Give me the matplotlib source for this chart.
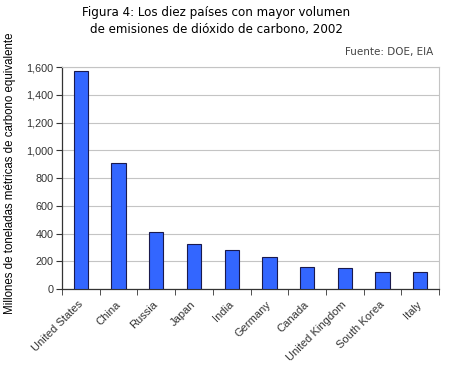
import matplotlib
matplotlib.use("Agg")
import matplotlib.pyplot as plt
import numpy as np

countries = ["United States", "China", "Russia", "Japan", "India", "Germany",
             "Canada", "United Kingdom", "South Korea", "Italy"]
emissions = [1572, 906, 413, 324, 281, 228, 159, 149, 122, 122]
yticks = [0, 200, 400, 600, 800, 1000, 1200, 1400, 1600]

fig = plt.figure(figsize=(4.5, 3.65), dpi=100)
ax = fig.add_axes([0.1378, 0.2082, 0.8378, 0.6082])

x = np.arange(len(countries))
ax.bar(x, emissions, width=0.38, color="#3366ff", edgecolor="#1a1a4d",
       linewidth=0.8, zorder=3)

ax.set_xlim(-0.5, len(countries) - 0.5)
ax.set_ylim(0, 1600)
ax.set_yticks(yticks)
ax.set_yticklabels([f"{v:,}" for v in yticks], fontsize=7.8,
                   family="Liberation Sans", color="#333333")
ax.yaxis.grid(True, color="#c4c4c4", linewidth=0.8, zorder=0)

ax.set_xticks(x)
ax.set_xticklabels(countries, rotation=45, ha="right", va="center",
                   rotation_mode="anchor", fontsize=8,
                   family="Liberation Sans", color="#333333")
ax.set_xticks(np.arange(-0.5, len(countries)), minor=True)
ax.tick_params(axis="x", which="major", length=0, pad=10)
ax.tick_params(axis="x", which="minor", length=4, color="#333333")
ax.tick_params(axis="y", length=4, color="#333333", pad=2)

for s in ["top", "right"]:
    ax.spines[s].set_color("#c4c4c4")
    ax.spines[s].set_linewidth(0.8)
for s in ["left", "bottom"]:
    ax.spines[s].set_color("#333333")
    ax.spines[s].set_linewidth(0.9)

ax.set_ylabel("Millones de toneladas métricas de carbono equivalente",
              fontsize=8.3, family="Liberation Sans")
ax.yaxis.set_label_coords(-0.122, 0.522)

fig.text(0.48, 0.965, "Figura 4: Los diez países con mayor volumen",
         ha="center", va="center", fontsize=8.6)
fig.text(0.48, 0.918, "de emisiones de dióxido de carbono, 2002",
         ha="center", va="center", fontsize=8.6)
fig.text(0.962, 0.857, "Fuente: DOE, EIA", ha="right", va="center",
         fontsize=7.5, color="#444444")

fig.savefig("out.png", dpi=100)
